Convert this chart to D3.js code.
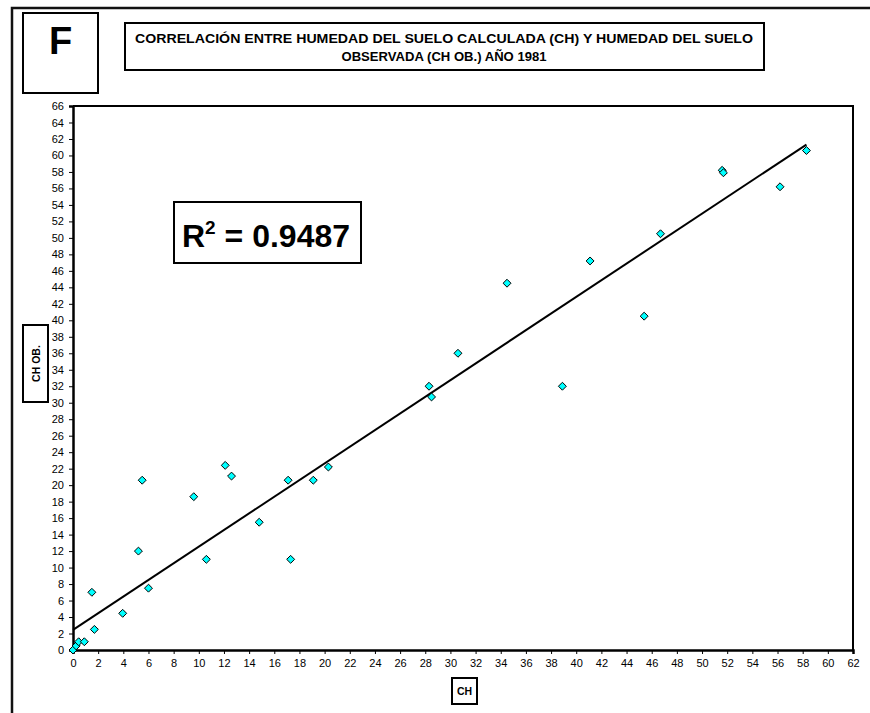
<!DOCTYPE html>
<html>
<head>
<meta charset="utf-8">
<script src="https://cdn.jsdelivr.net/npm/d3@7"></script>
<style>
  html, body { margin: 0; padding: 0; background: #fff; }
  svg { display: block; font-family: "Liberation Sans", Arial, sans-serif; }
</style>
</head>
<body>
<svg id="chart" width="870" height="713"></svg>
<script>
// Soil moisture: calculated (CH) vs observed (CH OB.), 1981
const ch   = [0, 0.25, 0.45, 0.9, 1.5, 1.7, 3.95, 5.2, 5.5, 6.0, 9.6, 10.6, 12.1, 12.6, 14.8, 17.1, 17.3, 19.1, 20.3, 28.3, 28.5, 30.6, 34.5, 38.9, 41.1, 45.4, 46.7, 51.6, 51.7, 56.2, 58.3];
const chOb = [0, 0.5, 1.0, 1.0, 7.0, 2.5, 4.45, 12.0, 20.6, 7.5, 18.6, 11.0, 22.4, 21.1, 15.5, 20.6, 11.0, 20.6, 22.2, 32.0, 30.7, 36.0, 44.5, 32.0, 47.2, 40.5, 50.5, 58.2, 57.9, 56.2, 60.6];

// Linear trend line y = intercept + slope * x
const trendIntercept = 2.44;
const trendSlope = 1.01;
const rSquared = "0.9487";

const xTicks = d3.range(0, 63, 2);
const yTicks = d3.range(0, 67, 2);

const titleLines = [
  "CORRELACIÓN ENTRE HUMEDAD DEL SUELO CALCULADA (CH) Y HUMEDAD DEL SUELO",
  "OBSERVADA (CH OB.) AÑO 1981"
];
const titleWidths = [618, 205];

const svg = d3.select("#chart");

// outer frame
svg.append("rect")
  .attr("x", 12).attr("y", 8).attr("width", 900).attr("height", 760)
  .attr("fill", "none").attr("stroke", "#111").attr("stroke-width", 2.5);

// panel letter
svg.append("rect")
  .attr("x", 23).attr("y", 13).attr("width", 75).attr("height", 80)
  .attr("fill", "#fff").attr("stroke", "#000").attr("stroke-width", 2);
svg.append("text")
  .attr("x", 60.5).attr("y", 54)
  .attr("text-anchor", "middle")
  .attr("font-size", 38).attr("font-weight", "bold")
  .text("F");

// title box
svg.append("rect")
  .attr("x", 125).attr("y", 23).attr("width", 639).attr("height", 47)
  .attr("fill", "#fff").attr("stroke", "#000").attr("stroke-width", 2);
svg.selectAll(".title")
  .data(titleLines)
  .join("text")
  .attr("class", "title")
  .attr("x", 444).attr("y", (d, i) => 43 + i * 18)
  .attr("text-anchor", "middle")
  .attr("font-size", 13.6).attr("font-weight", "bold")
  .attr("textLength", (d, i) => titleWidths[i])
  .attr("lengthAdjust", "spacingAndGlyphs")
  .text(d => d);

// scales
const x = d3.scaleLinear().domain([0, 62]).range([73, 853]);
const y = d3.scaleLinear().domain([0, 66]).range([650, 106]);

// plot frame (top and right)
svg.append("path")
  .attr("d", `M${x(0)},${y(66)}H${x(62)}V${y(0)}`)
  .attr("fill", "none").attr("stroke", "#000").attr("stroke-width", 2);

// axes
const xAxis = svg.append("g")
  .attr("transform", `translate(0,${y(0)})`)
  .call(d3.axisBottom(x).tickValues(xTicks).tickFormat(d3.format("d")).tickSize(4).tickPadding(5));
const yAxis = svg.append("g")
  .attr("transform", `translate(${x(0)},0)`)
  .call(d3.axisLeft(y).tickValues(yTicks).tickFormat(d3.format("d")).tickSize(4).tickPadding(5));

[xAxis, yAxis].forEach(g => {
  g.select(".domain").attr("stroke", "#000").attr("stroke-width", 2.5);
  g.selectAll(".tick line").attr("stroke", "#000").attr("stroke-width", 1);
  g.selectAll(".tick text")
    .attr("fill", "#000")
    .attr("font-size", 11)
    .attr("font-family", "'Liberation Sans', Arial, sans-serif");
});

// trend line
const xMax = d3.max(ch);
svg.append("line")
  .attr("x1", x(0)).attr("y1", y(trendIntercept))
  .attr("x2", x(xMax)).attr("y2", y(trendIntercept + trendSlope * xMax))
  .attr("stroke", "#000").attr("stroke-width", 2);

// data points (diamonds)
const diamond = d3.symbol().type(d3.symbolDiamond2).size(40);
svg.append("g")
  .selectAll("path")
  .data(ch.map((v, i) => [v, chOb[i]]))
  .join("path")
  .attr("transform", d => `translate(${x(d[0])},${y(d[1])})`)
  .attr("d", diamond)
  .attr("fill", "#00ffff")
  .attr("stroke", "#000")
  .attr("stroke-width", 1);

// R² box
svg.append("rect")
  .attr("x", 174).attr("y", 202).attr("width", 187).attr("height", 61)
  .attr("fill", "#fff").attr("stroke", "#000").attr("stroke-width", 2);
const r2 = svg.append("text")
  .attr("x", 182).attr("y", 247)
  .attr("font-size", 32).attr("font-weight", "bold");
r2.append("tspan").text("R");
r2.append("tspan").attr("font-size", 19).attr("dy", -13).text("2");
r2.append("tspan").attr("dy", 13).text(" = " + rSquared);

// axis titles
svg.append("rect")
  .attr("x", 452).attr("y", 678).attr("width", 25).attr("height", 26)
  .attr("fill", "#fff").attr("stroke", "#000").attr("stroke-width", 2);
svg.append("text")
  .attr("x", 464.5).attr("y", 695)
  .attr("text-anchor", "middle")
  .attr("font-size", 10.5).attr("font-weight", "bold")
  .text("CH");

svg.append("rect")
  .attr("x", 23).attr("y", 325).attr("width", 25).attr("height", 77)
  .attr("fill", "#fff").attr("stroke", "#000").attr("stroke-width", 2);
svg.append("text")
  .attr("transform", "translate(39.5,363.5) rotate(-90)")
  .attr("text-anchor", "middle")
  .attr("font-size", 10.5).attr("font-weight", "bold")
  .text("CH OB.");
</script>
</body>
</html>
